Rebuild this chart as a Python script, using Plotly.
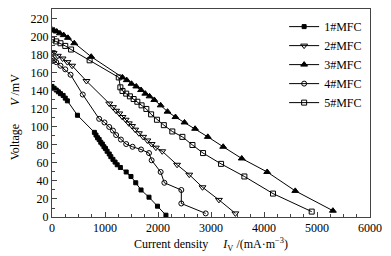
import plotly.graph_objects as go

# 1#MFC
x1 = [0, 40, 80, 120, 160, 210, 250, 290, 480, 800, 830, 860, 890, 920, 950, 980, 1010, 1040, 1080,
      1110, 1150, 1190, 1230, 1290, 1400, 1490, 1580, 1680, 1830, 1990, 2150]
y1 = [145, 143, 141, 139, 137, 135, 132, 129, 113, 94, 91, 88, 86, 83, 81, 78, 76, 73, 70,
      67, 64, 61, 58, 55, 50, 45, 38, 30, 22, 12, 2]
# 2#MFC
x2 = [0, 30, 110, 200, 290, 380, 650, 1080, 1150, 1210, 1270, 1330, 1390, 1450, 1510, 1570, 1640,
      1720, 1800, 1880, 1960, 2080, 2360, 2590, 2840, 3150, 3460]
y2 = [183, 182, 179, 176, 172, 168, 151, 126, 122, 118, 115, 111, 108, 104, 101, 97, 93,
      89, 85, 81, 77, 73, 58, 47, 33, 19, 4]
# 3#MFC
x3 = [0, 40, 90, 150, 220, 300, 420, 740, 1330, 1410, 1500, 1590, 1680, 1760, 1840, 1930, 2050,
      2180, 2330, 2500, 2700, 2940, 3230, 3580, 4060, 4590, 5300]
y3 = [208, 207, 206, 204, 202, 199, 193, 178, 155, 152, 148, 145, 141, 137, 134, 130, 124,
      117, 111, 105, 98, 89, 78, 65, 50, 29, 7]
# 4#MFC
x4 = [0, 40, 80, 160, 250, 350, 580, 890, 990, 1080, 1150, 1210, 1300, 1400, 1520, 1680, 1830,
      1880, 2050, 2120, 2440, 2440, 2900]
y4 = [176, 174, 172, 168, 164, 158, 136, 109, 105, 100, 96, 91, 86, 81, 78, 75, 71,
      63, 50, 38, 30, 15, 4]
# 5#MFC
x5 = [0, 80, 160, 250, 360, 710, 1260, 1290, 1330, 1400, 1470, 1540, 1610, 1690, 1780, 1870,
      1980, 2110, 2270, 2460, 2650, 2850, 3190, 3630, 4170, 4900]
y5 = [197, 195, 193, 190, 186, 174, 155, 144, 140, 137, 134, 131, 128, 124, 120, 114,
      108, 102, 95, 89, 80, 71, 59, 45, 26, 6]

names = ["1#MFC", "2#MFC", "3#MFC", "4#MFC", "5#MFC"]
symbols = ["square", "triangle-down-open", "triangle-up", "circle-open", "square-open"]
sizes = [4, 6, 6, 5, 5]
xs = [x1, x2, x3, x4, x5]
ys = [y1, y2, y3, y4, y5]

x_ticks = [0, 1000, 2000, 3000, 4000, 5000, 6000]
y_ticks = list(range(0, 221, 20))

FONT = "Liberation Serif"
fig = go.Figure()
for x, y, n, s, sz in zip(xs, ys, names, symbols, sizes):
    fig.add_trace(go.Scatter(
        x=x, y=y, name=n, mode="lines+markers",
        line=dict(color="black", width=1),
        marker=dict(symbol=s, size=sz, color="black", line=dict(color="black", width=1)),
    ))

axis_common = dict(
    showline=True, linecolor="#444", linewidth=1, mirror=True,
    showgrid=False, zeroline=False, ticks="inside", ticklen=5, tickcolor="#444",
    tickfont=dict(family=FONT, size=12, color="black"),
)
fig.update_xaxes(range=[0, 6000], tickvals=x_ticks, ticktext=[str(v) for v in x_ticks],
                 minor=dict(dtick=250, ticks="inside", ticklen=3, tickcolor="#444"),
                 **axis_common)
fig.update_yaxes(range=[0, 231], tickvals=y_ticks, ticktext=[str(v) for v in y_ticks],
                 minor=dict(dtick=10, ticks="inside", ticklen=3, tickcolor="#444"),
                 **axis_common)

fig.add_annotation(
    text="Current density&nbsp;&nbsp;&nbsp;&nbsp;&nbsp;<i>I</i><sub>V</sub> /(mA·m<sup>−3</sup>)",
    xref="paper", yref="paper", x=0.5, y=-0.13, xanchor="center", yanchor="middle",
    showarrow=False, font=dict(family=FONT, size=12, color="black"))
fig.add_annotation(
    text="Voltage&nbsp;&nbsp;&nbsp;&nbsp;&nbsp;&nbsp;<i>V</i> /mV",
    xref="paper", yref="paper", x=-0.116, y=0.48, xanchor="center", yanchor="middle",
    textangle=-90, showarrow=False, font=dict(family=FONT, size=12, color="black"))

# page body has an 8px margin, so the figure is sized/offset to compensate
fig.update_layout(
    width=383, height=248,
    margin=dict(l=44, r=21, t=1, b=39, autoexpand=False),
    plot_bgcolor="white", paper_bgcolor="white",
    showlegend=True,
    legend=dict(x=0.73, y=0.985, xanchor="left", yanchor="top",
                bgcolor="rgba(0,0,0,0)", borderwidth=0,
                font=dict(family=FONT, size=12, color="black"),
                tracegroupgap=0),
)
fig.write_html("out.html")
